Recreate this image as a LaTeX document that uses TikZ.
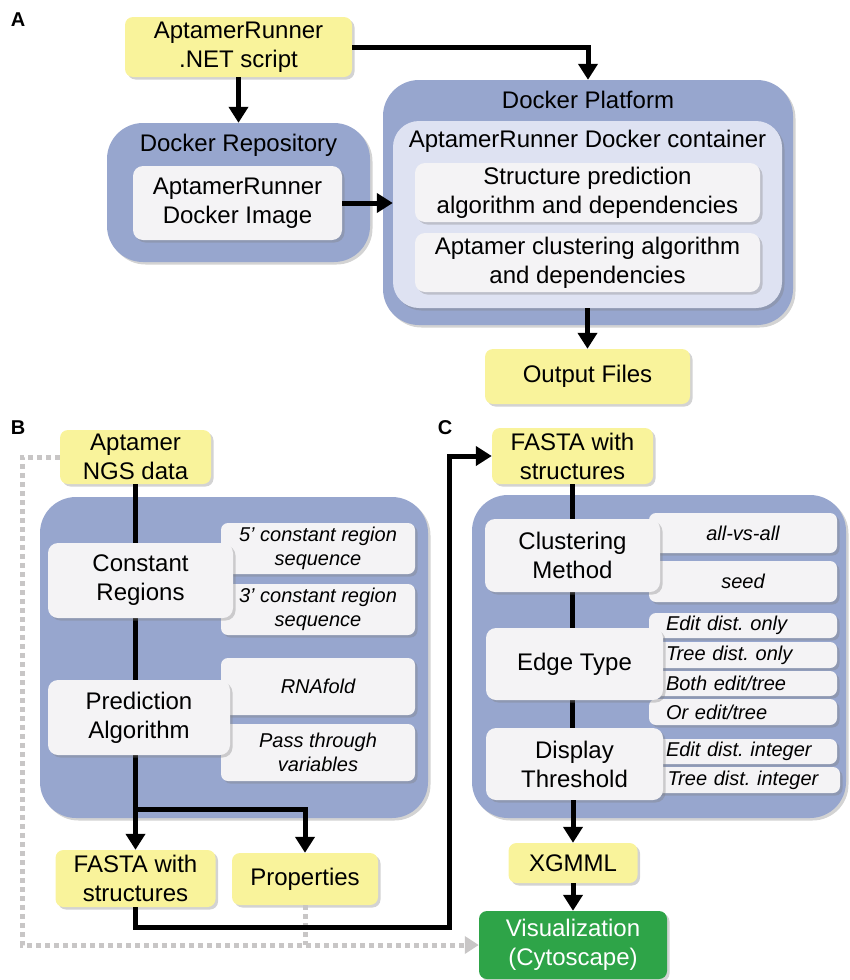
\documentclass[tikz,border=0pt]{standalone}
\usepackage{fontspec}
\setmainfont{Liberation Sans}
\usetikzlibrary{arrows.meta,shadows}
\definecolor{fileyellow}{HTML}{F9F39B}
\definecolor{panelblue}{HTML}{97A6CE}
\definecolor{innerblue}{HTML}{DEE2F2}
\definecolor{boxwhite}{HTML}{F4F3F5}
\definecolor{vizgreen}{HTML}{2EA448}
\definecolor{dotgray}{HTML}{C8C6C6}
\frenchspacing
\begin{document}
\begin{tikzpicture}[x=1pt,y=-1pt]
    \tikzset{
        base/.style={inner sep=0pt, align=center, font=\fontsize{24}{29}\selectfont},
        shade/.style={drop shadow={shadow xshift=2.5pt, shadow yshift=-2.5pt, opacity=.35}},
        filebox/.style={base, shade, fill=fileyellow, rounded corners=8pt},
        panel/.style={shade, fill=panelblue, rounded corners=36pt, inner sep=0pt},
        innerpanel/.style={shade, fill=innerblue, rounded corners=26pt, inner sep=0pt},
        stepbox/.style={base, shade, fill=boxwhite, rounded corners=10pt},
        optbox/.style={stepbox, rounded corners=7pt, font=\itshape\fontsize{20}{24}\selectfont},
        leftopt/.style={optbox, text width=154pt, align=left},
        panellabel/.style={inner sep=0pt, font=\bfseries\fontsize{20}{24}\selectfont},
        arc/.style={-{Triangle[length=16pt,width=19pt]}, line width=5pt},
        trunk/.style={line width=5pt},
        dots/.style={draw=dotgray, line width=5pt, dash pattern=on 5pt off 4pt},
        dotarc/.style={dots, -{Triangle[length=14pt,width=17pt,fill=dotgray,color=dotgray]}}
    }
    \useasboundingbox (0,0) rectangle (849,980);

    % A
    \draw node[panellabel] (labA) at (18,20) {A};
    \draw node[filebox, minimum width=227pt, minimum height=60pt] (script) at (238.5,47) {AptamerRunner\\.NET script};
    \draw node[panel, minimum width=263pt, minimum height=139pt] (repo) at (238.5,192.5) {};
    \draw node[base] (repotitle) at (238.5,145) {Docker Repository};
    \draw node[stepbox, minimum width=209pt, minimum height=74pt] (image) at (237.5,203) {AptamerRunner\\Docker Image};
    \draw node[panel, minimum width=410pt, minimum height=245pt] (platform) at (588,202.5) {};
    \draw node[base] (platformtitle) at (588,100) {Docker Platform};
    \draw node[innerpanel, minimum width=389pt, minimum height=187pt] (container) at (587.5,214.5) {};
    \draw node[base] (containertitle) at (587.5,141) {AptamerRunner Docker container};
    \draw node[stepbox, minimum width=345pt, minimum height=59pt] (structalg) at (587.5,192.5) {Structure prediction\\algorithm and dependencies};
    \draw node[stepbox, minimum width=345pt, minimum height=59pt] (clustalg) at (587.5,262.5) {Aptamer clustering algorithm\\and dependencies};
    \draw node[filebox, minimum width=205pt, minimum height=55pt] (output) at (587.5,376.5) {Output Files};

    \draw[arc] (script) -- (repo);
    \draw[arc] (script.east) -| (platform.north);
    \draw[arc] (image.east) -- (image.east -| container.west);
    \draw[arc] (container.south) -- (output.north);

    % B and C, end files first
    \draw node[panellabel] (labB) at (18,428) {B};
    \draw node[panellabel] (labC) at (445,428) {C};
    \draw node[filebox, minimum width=151pt, minimum height=54pt] (ngs) at (135.5,457) {Aptamer\\NGS data};
    \draw node[filebox, minimum width=160pt, minimum height=57pt] (fastab) at (135.5,878.5) {FASTA with\\structures};
    \draw node[filebox, minimum width=146pt, minimum height=52pt] (props) at (305,879) {Properties};
    \draw node[filebox, minimum width=161pt, minimum height=56pt] (fastac) at (572.5,456) {FASTA with\\structures};
    \draw node[filebox, minimum width=129pt, minimum height=40pt] (xgmml) at (573,863) {XGMML};
    \draw node[filebox, fill=vizgreen, text=white, minimum width=188pt, minimum height=68pt] (vis) at (573,945) {Visualization\\(Cytoscape)};

    \draw node[panel, minimum width=388pt, minimum height=321pt] (panelb) at (234,657.5) {};
    \draw node[panel, minimum width=374pt, minimum height=323pt] (panelc) at (659,656.5) {};

    \coordinate (dtop) at (22,457);
    \coordinate (dbot) at (22,945);
    \draw[dotarc] (ngs.west) -- (dtop) -- (dbot) -- (vis.west);
    \draw[dots] (props.south) -- (props.south |- dbot);

    \coordinate (bsplit) at (135.5,809);
    \coordinate (bturn) at (449,927);
    \coordinate (ctrunk) at (572.5,764);
    \draw[trunk] (ngs.south) -- (bsplit);
    \draw[arc] (bsplit) -- (fastab.north);
    \draw[arc] (bsplit) -| (props.north);
    \draw[arc] (fastab.south) |- (bturn) |- (fastac.west);
    \draw[trunk] (fastac.south) -- (ctrunk);

    % B steps
    \draw node[optbox, minimum width=194pt, minimum height=51pt] (fiveprime) at (318,548.5) {5’ constant region\\sequence};
    \draw node[optbox, minimum width=194pt, minimum height=51pt] (threeprime) at (318,609.5) {3’ constant region\\sequence};
    \draw node[optbox, minimum width=194pt, minimum height=57pt] (rnafold) at (318,686.5) {RNAfold};
    \draw node[optbox, minimum width=194pt, minimum height=57pt] (passvars) at (318,752.5) {Pass through\\variables};
    \draw node[stepbox, minimum width=185pt, minimum height=75pt] (constreg) at (140.5,580.5) {Constant\\Regions};
    \draw node[stepbox, minimum width=182pt, minimum height=75pt] (predalg) at (139,717.5) {Prediction\\Algorithm};

    % C steps
    \draw node[optbox, minimum width=188pt, minimum height=40pt] (allvsall) at (743,533) {all-vs-all};
    \draw node[optbox, minimum width=188pt, minimum height=41pt] (seed) at (743,581.5) {seed};
    \draw node[leftopt, minimum width=188pt, minimum height=25pt] (editonly) at (743,625.5) {Edit dist. only};
    \draw node[leftopt, minimum width=188pt, minimum height=26pt] (treeonly) at (743,655) {Tree dist. only};
    \draw node[leftopt, minimum width=188pt, minimum height=25pt] (bothet) at (743,683.5) {Both edit/tree};
    \draw node[leftopt, minimum width=188pt, minimum height=26pt] (oret) at (743,712) {Or edit/tree};
    \draw node[leftopt, minimum width=188pt, minimum height=25pt] (editint) at (743,751.5) {Edit dist. integer};
    \draw node[leftopt, minimum width=191pt, minimum height=26pt] (treeint) at (744.5,780) {Tree dist. integer};
    \draw node[stepbox, minimum width=175pt, minimum height=73pt] (clustmeth) at (572.5,555.5) {Clustering\\Method};
    \draw node[stepbox, minimum width=177pt, minimum height=72pt] (edgetype) at (574.5,664) {Edge Type};
    \draw node[stepbox, minimum width=177pt, minimum height=72pt] (display) at (574.5,764) {Display\\Threshold};

    \draw[arc] (xgmml.north |- display.south) -- (xgmml.north);
    \draw[arc] (xgmml) -- (vis);
\end{tikzpicture}
\end{document}
